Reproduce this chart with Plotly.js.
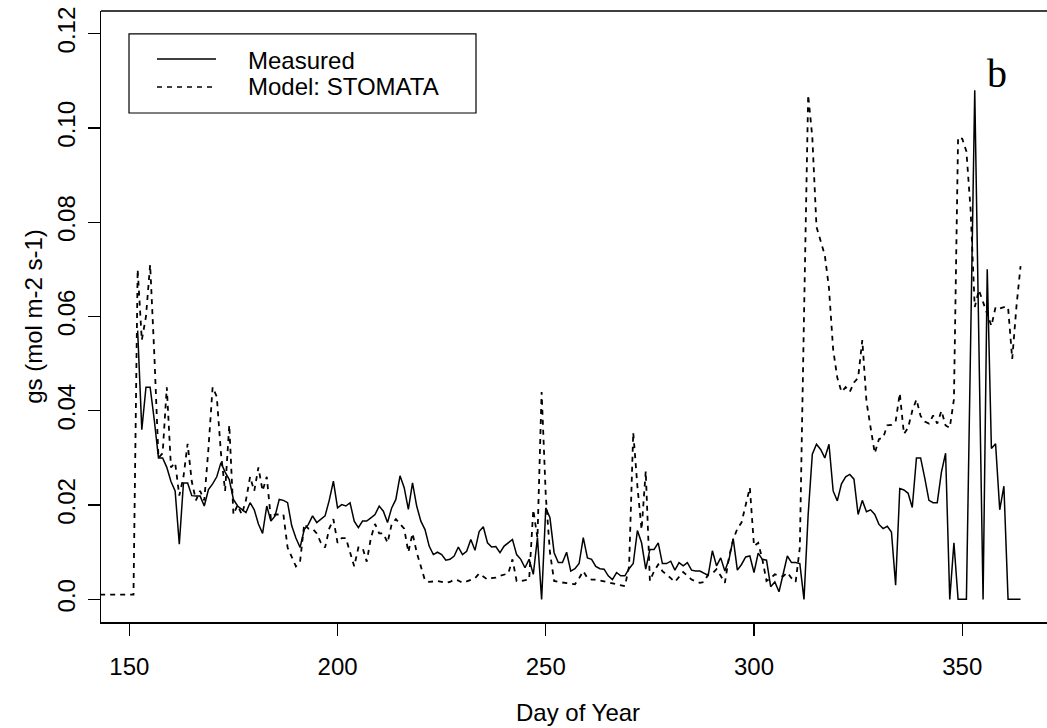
<!DOCTYPE html>
<html>
<head>
<meta charset="utf-8">
<script src="https://cdn.plot.ly/plotly-3.0.1.min.js"></script>
<style>html,body{margin:0;padding:0;background:#fff;}#chart{width:1047px;height:728px;}</style>
</head>
<body>
<div id="chart"></div>
<script>
// Model: STOMATA (dashed), daily from day 143 to 364
const modelDays = [143,144,145,146,147,148,149,150,151,152,153,154,155,156,157,158,159,160,161,162,163,164,165,166,167,168,169,170,171,172,173,174,175,176,177,178,179,180,181,182,183,184,185,186,187,188,189,190,191,192,193,194,195,196,197,198,199,200,201,202,203,204,205,206,207,208,209,210,211,212,213,214,215,216,217,218,219,220,221,222,223,224,225,226,227,228,229,230,231,232,233,234,235,236,237,238,239,240,241,242,243,244,245,246,247,248,249,250,251,252,253,254,255,256,257,258,259,260,261,262,263,264,265,266,267,268,269,270,271,272,273,274,275,276,277,278,279,280,281,282,283,284,285,286,287,288,289,290,291,292,293,294,295,296,297,298,299,300,301,302,303,304,305,306,307,308,309,310,311,312,313,314,315,316,317,318,319,320,321,322,323,324,325,326,327,328,329,330,331,332,333,334,335,336,337,338,339,340,341,342,343,344,345,346,347,348,349,350,351,352,353,354,355,356,357,358,359,360,361,362,363,364];
const modelGs = [0.001,0.001,0.001,0.001,0.001,0.001,0.001,0.001,0.001,
0.070,0.055,0.060,0.071,0.052,0.030,0.031,0.045,0.028,0.029,
0.022,0.026,0.033,0.025,0.021,0.023,0.021,0.032,0.045,0.043,
0.031,0.023,0.037,0.018,0.020,0.018,0.021,0.026,0.023,0.028,
0.023,0.026,0.017,0.018,0.018,0.018,0.011,0.009,0.007,0.008,
0.016,0.015,0.015,0.014,0.012,0.011,0.015,0.017,0.012,0.013,
0.013,0.010,0.007,0.011,0.011,0.008,0.013,0.016,0.014,0.014,
0.012,0.016,0.017,0.016,0.015,0.010,0.014,0.010,0.0067,0.004,
0.0037,0.0038,0.0039,0.0037,0.0035,0.0037,0.0042,0.0040,0.0035,0.0038,
0.0042,0.0045,0.0055,0.0048,0.0042,0.0045,0.0046,0.0050,0.0053,0.0055,
0.0085,0.0039,0.0039,0.0040,0.0042,0.019,0.013,0.044,0.022,0.010,
0.0039,0.0037,0.0036,0.0035,0.0033,0.0032,0.0045,0.006,0.0045,0.0042,
0.0042,0.0040,0.0038,0.0036,0.0034,0.0033,0.0030,0.0028,0.007,0.0354,
0.024,0.0148,0.0272,0.0039,0.006,0.0074,0.006,0.0053,0.0045,0.0037,
0.0048,0.0058,0.005,0.0042,0.0038,0.0035,0.0037,0.0053,0.0055,0.0064,
0.005,0.0035,0.009,0.0127,0.015,0.0163,0.020,0.0237,0.0113,0.012,
0.0085,0.0039,0.0045,0.0053,0.0050,0.0049,0.0057,0.0045,0.0037,0.011,
0.060,0.107,0.098,0.079,0.076,0.073,0.066,0.053,0.047,0.044,
0.045,0.044,0.046,0.047,0.055,0.042,0.0364,0.031,0.034,0.0343,
0.0369,0.037,0.0377,0.0437,0.0351,0.0364,0.040,0.0424,0.0389,0.0377,
0.0373,0.039,0.0373,0.040,0.0369,0.0364,0.0424,0.098,0.0977,0.095,
0.0827,0.062,0.0656,0.063,0.0604,0.058,0.062,0.0617,0.062,0.062,
0.051,0.062,0.0707];

// Measured (solid)
const measDays = [152,153,154,155,156,157,158,159,160,161,162,163,164,165,166,167,168,169,170,171,172,173,174,175,176,177,178,179,180,181,182,183,184,185,186,187,188,189,190,191,192,193,194,195,196,197,198,199,200,201,202,203,204,205,206,207,208,209,210,211,212,213,214,215,216,217,218,219,220,221,222,223,224,225,226,227,228,229,230,231,232,233,234,235,236,237,238,239,240,241,242,243,244,245,246,247,248,249,250,251,252,253,254,255,256,257,258,259,260,261,262,263,264,265,266,267,268,269,270,271,272,273,274,275,276,277,278,279,280,281,282,283,284,285,286,287,288,289,290,291,292,293,294,295,296,297,298,299,300,301,302,303,304,305,306,307,308,309,310,311,312,313,314,315,316,317,318,319,320,321,322,323,324,325,326,327,328,329,330,331,332,333,334,335,336,337,338,339,340,341,342,343,344,345,346,347,348,349,350,351,353,355,356,357,358,359,360,361,362,363,364];
const measGs = [0.057,0.036,0.045,0.045,0.038,0.030,0.030,0.028,0.025,0.023,
0.0117,0.0247,0.0247,0.022,0.0219,0.0219,0.0198,0.0233,0.0245,0.026,
0.029,0.027,0.0254,0.0212,0.0198,0.019,0.0184,0.0205,0.019,0.016,
0.014,0.0198,0.0166,0.0177,0.0212,0.021,0.0205,0.0156,0.013,0.011,
0.0148,0.0159,0.0177,0.0163,0.017,0.0177,0.021,0.0251,0.0194,0.0201,
0.0198,0.0205,0.0166,0.0152,0.0166,0.0166,0.0173,0.018,0.0198,0.0187,
0.0163,0.0194,0.0212,0.0262,0.0237,0.0191,0.0247,0.0198,0.0166,0.0148,
0.0113,0.0095,0.0100,0.0095,0.0083,0.0085,0.0092,0.0111,0.0095,0.0102,
0.0127,0.0104,0.0144,0.0154,0.012,0.0111,0.0112,0.0099,0.0113,0.012,
0.0127,0.0095,0.0085,0.0067,0.0085,0.0053,0.0131,0.0,0.0194,0.0173,
0.0099,0.0078,0.0078,0.010,0.006,0.0065,0.0076,0.0131,0.0088,0.0085,
0.007,0.0065,0.0064,0.005,0.0042,0.0057,0.005,0.005,0.0065,0.0076,
0.0146,0.012,0.0064,0.0106,0.0106,0.012,0.0076,0.0076,0.0081,0.0062,
0.0078,0.0071,0.0078,0.0062,0.006,0.006,0.0055,0.0051,0.0103,0.0071,
0.0088,0.006,0.0085,0.0129,0.0062,0.0074,0.009,0.0092,0.0057,0.0098,
0.0085,0.0083,0.0027,0.0037,0.0016,0.0053,0.0092,0.0078,0.0078,0.0076,
0.0,0.018,0.0308,0.0329,0.0318,0.030,0.0329,0.023,0.0209,0.0245,
0.026,0.0265,0.0255,0.018,0.021,0.0186,0.019,0.018,0.0159,0.015,
0.0155,0.0143,0.003,0.0235,0.0232,0.0225,0.0195,0.030,0.030,0.0257,
0.021,0.0205,0.0205,0.027,0.031,0.0,0.012,0.0,0.0,0.0,
0.108,0.0,0.070,0.032,0.033,0.019,0.024,0.0,0.0,0.0,0.0];

const xTicks = [150,200,250,300,350];
const yTicks = [0,0.02,0.04,0.06,0.08,0.10,0.12];
const yTickText = ['0.0','0.02','0.04','0.06','0.08','0.10','0.12'];
const seriesNames = ['Measured', 'Model: STOMATA'];

const FONT = 'Liberation Sans, Arial, Helvetica, sans-serif';
const INK = '#000';
const FS = 24;

const traces = [
  {x: measDays, y: measGs, type: 'scatter', mode: 'lines', name: seriesNames[0],
   line: {color: INK, width: 1.5}, showlegend: false},
  {x: modelDays, y: modelGs, type: 'scatter', mode: 'lines', name: seriesNames[1],
   line: {color: INK, width: 1.8, dash: '5px,5px'}, showlegend: false}
];

// legend drawn R-style (box, line samples, labels) in paper coordinates
const lg = {x0: 0.0296, x1: 0.3964, y0: 0.8331, y1: 0.9624,
            sx0: 0.0592, sx1: 0.1216, tx: 0.1533, ya: 0.9215, yb: 0.8756,
            ta: 0.9182, tb: 0.8764};

const layout = {
  width: 1047, height: 728,
  margin: {l: 101, r: 0, t: 11, b: 106, pad: 0},
  paper_bgcolor: '#fff', plot_bgcolor: '#fff',
  font: {family: FONT, size: FS, color: INK},
  showlegend: false,
  xaxis: {
    range: [143.2, 370.35], tickvals: xTicks, ticks: 'outside', ticklen: 12,
    tickwidth: 1.3, tickcolor: INK, showline: true, linecolor: INK, linewidth: 1.5,
    showgrid: false, zeroline: false, automargin: false,
    tickfont: {family: FONT, size: FS, color: INK}, ticklabelstandoff: 11
  },
  yaxis: {
    range: [-0.0048, 0.1248], tickvals: yTicks, ticktext: yTickText, tickangle: -90,
    ticks: 'outside', ticklen: 12, tickwidth: 1.3, tickcolor: INK,
    showline: true, linecolor: INK, linewidth: 1.5,
    showgrid: false, zeroline: false, automargin: false,
    tickfont: {family: FONT, size: FS, color: INK}, ticklabelstandoff: 3
  },
  shapes: [
    {type: 'line', xref: 'paper', yref: 'paper', x0: 0, x1: 1, y0: 1, y1: 1,
     line: {color: INK, width: 1.5}},
    {type: 'rect', xref: 'paper', yref: 'paper', x0: lg.x0, x1: lg.x1, y0: lg.y0, y1: lg.y1,
     line: {color: INK, width: 1.2}, fillcolor: 'rgba(255,255,255,0)'},
    {type: 'line', xref: 'paper', yref: 'paper', x0: lg.sx0, x1: lg.sx1, y0: lg.ya, y1: lg.ya,
     line: {color: INK, width: 1.5}},
    {type: 'line', xref: 'paper', yref: 'paper', x0: lg.sx0, x1: lg.sx1, y0: lg.yb, y1: lg.yb,
     line: {color: INK, width: 1.5, dash: '5px,5px'}}
  ],
  annotations: [
    {text: seriesNames[0], xref: 'paper', yref: 'paper', x: lg.tx, y: lg.ta,
     xanchor: 'left', yanchor: 'middle', showarrow: false,
     font: {family: FONT, size: FS, color: INK}},
    {text: seriesNames[1], xref: 'paper', yref: 'paper', x: lg.tx, y: lg.tb,
     xanchor: 'left', yanchor: 'middle', showarrow: false,
     font: {family: FONT, size: FS, color: INK}},
    {text: 'Day of Year', xref: 'paper', yref: 'paper', x: 0.5042, y: -0.1489,
     xanchor: 'center', yanchor: 'middle', showarrow: false,
     font: {family: FONT, size: FS, color: INK}},
    {text: 'gs (mol m-2 s-1)', xref: 'paper', yref: 'paper', x: -0.0715, y: 0.5,
     xanchor: 'center', yanchor: 'middle', textangle: -90, showarrow: false,
     font: {family: FONT, size: FS, color: INK}},
    {text: 'b', xref: 'paper', yref: 'paper', x: 0.947, y: 0.8985,
     xanchor: 'center', yanchor: 'middle', showarrow: false,
     font: {family: 'Liberation Serif, Times New Roman, serif', size: 40, color: INK}}
  ]
};

Plotly.newPlot('chart', traces, layout, {displayModeBar: false, staticPlot: true});
</script>
</body>
</html>
